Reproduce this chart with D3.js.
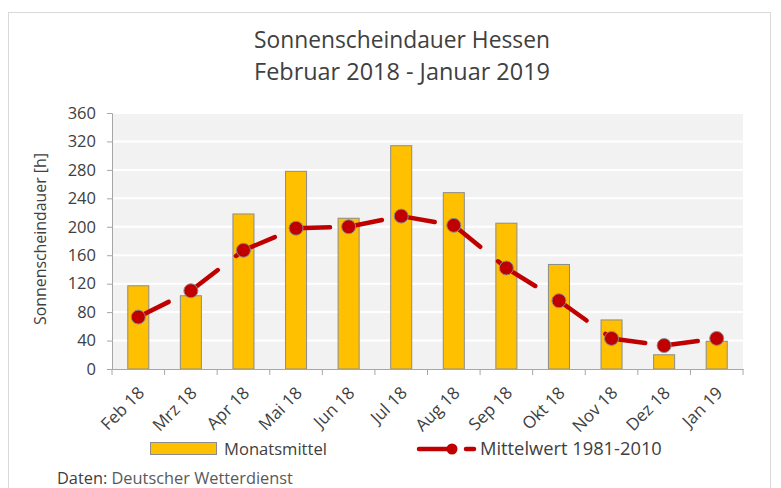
<!DOCTYPE html>
<html><head><meta charset="utf-8">
<script src="https://cdn.jsdelivr.net/npm/d3@7"></script>
<style>body{margin:0;background:#fff;} svg{display:block;font-family:"Open Sans",sans-serif;}</style>
</head><body>
<svg id="c" width="781" height="488"></svg>
<script>
const months = ["Feb 18","Mrz 18","Apr 18","Mai 18","Jun 18","Jul 18","Aug 18","Sep 18","Okt 18","Nov 18","Dez 18","Jan 19"];
const monatsmittel = [117,103,218,278,212,314,248,205,147,69,20,39];
const mittelwert = [73,110,167,198,200,215,202,142,96,43,33,43];
const yTicks = [0,40,80,120,160,200,240,280,320,360];
const titleLines = ["Sonnenscheindauer Hessen","Februar 2018 - Januar 2019"];
const yTitle = "Sonnenscheindauer [h]";
const legendLabels = ["Monatsmittel","Mittelwert 1981-2010"];
const source = ["Daten: ","Deutscher Wetterdienst"];

const svg = d3.select("#c");
const txt = "#404040";
const M = {l:112, r:743, t:113, b:369};

// frame
svg.append("rect").attr("x",8.5).attr("y",12.5).attr("width",762).attr("height",490)
  .attr("fill","#fff").attr("stroke","#d9d9d9").attr("stroke-width",1);

function fit(sel, w){ const l = sel.node().getComputedTextLength(); const fs = parseFloat(sel.attr("font-size")); sel.attr("font-size", fs*w/l); }

const t1 = svg.append("text").attr("x",402).attr("y",48).attr("text-anchor","middle").attr("font-size",22).attr("fill",txt).text(titleLines[0]);
fit(t1, 296);
const t2 = svg.append("text").attr("x",402).attr("y",80).attr("text-anchor","middle").attr("font-size",22).attr("fill",txt).text(titleLines[1]);
fit(t2, 296);

const x = d3.scaleBand().domain(months).range([M.l, M.r]).paddingInner(0.6).paddingOuter(0.3);
const xb = d3.scaleBand().domain(months).range([M.l, M.r]);
const y = d3.scaleLinear().domain([0,360]).range([M.b, M.t]);

svg.append("rect").attr("x",M.l).attr("y",M.t).attr("width",M.r-M.l).attr("height",M.b-M.t).attr("fill","#f2f2f2");

// gridlines
svg.append("g").selectAll("line").data(yTicks.filter(d=>d>0)).join("line")
  .attr("x1",M.l).attr("x2",M.r).attr("y1",d=>y(d)).attr("y2",d=>y(d))
  .attr("stroke","#fff").attr("stroke-width",2);

// y axis
const ya = svg.append("g").attr("transform",`translate(${M.l},0)`)
  .call(d3.axisLeft(y).tickValues(yTicks).tickSize(5).tickPadding(11));
ya.select(".domain").attr("stroke","#a6a6a6");
ya.selectAll(".tick line").attr("stroke","#a6a6a6");
ya.selectAll("text").attr("font-size",16.5).attr("fill",txt).attr("font-family","Open Sans");

// bars
svg.append("g").selectAll("rect").data(months).join("rect")
  .attr("x",d=>x(d)).attr("width",x.bandwidth())
  .attr("y",(d,i)=>y(monatsmittel[i])).attr("height",(d,i)=>y(0)-y(monatsmittel[i]))
  .attr("fill","#ffc000").attr("stroke","#8c8c8c").attr("stroke-width",1);

// x axis
const xa = svg.append("g").attr("transform",`translate(0,${M.b})`)
  .call(d3.axisBottom(xb).tickSize(0).tickFormat(""));
xa.select(".domain").attr("stroke","#a6a6a6");
const bounds = d3.range(months.length+1).map(i=>M.l + i*xb.step());
svg.append("g").selectAll("line").data(bounds).join("line")
  .attr("x1",d=>d).attr("x2",d=>d).attr("y1",M.b).attr("y2",M.b+6).attr("stroke","#a6a6a6");
svg.append("g").selectAll("text").data(months).join("text")
  .attr("transform",d=>`translate(${xb(d)+xb.bandwidth()/2+7},${M.b+25}) rotate(-45)`)
  .attr("text-anchor","end").attr("font-size",17).attr("fill",txt).text(d=>d);

// line segments with per-segment dash
const cx = (i)=>xb(months[i])+xb.bandwidth()/2;
const lineGen = d3.line().x(d=>cx(d[0])).y(d=>y(d[1]));
const segs = d3.range(months.length-1).map(i=>[[i,mittelwert[i]],[i+1,mittelwert[i+1]]]);
svg.append("g").selectAll("path").data(segs).join("path")
  .attr("d",lineGen).attr("fill","none").attr("stroke","#c00000").attr("stroke-width",4.5)
  .attr("stroke-linecap","round").attr("stroke-dasharray","34 23");
svg.append("g").selectAll("circle").data(mittelwert).join("circle")
  .attr("cx",(d,i)=>cx(i)).attr("cy",d=>y(d)).attr("r",7)
  .attr("fill","#c00000").attr("stroke","#8c8c8c").attr("stroke-width",1);

// y title
const yt = svg.append("text").attr("transform","translate(46,239) rotate(-90)").attr("text-anchor","middle")
  .attr("font-size",15).attr("fill",txt).text(yTitle);
fit(yt, 172);

// legend
svg.append("rect").attr("x",150.5).attr("y",442.5).attr("width",66).attr("height",12)
  .attr("fill","#ffc000").attr("stroke","#8c8c8c");
const l1 = svg.append("text").attr("x",224).attr("y",455).attr("font-size",16).attr("fill",txt).text(legendLabels[0]);
fit(l1, 103);
svg.append("line").attr("x1",419).attr("x2",450).attr("y1",449).attr("y2",449).attr("stroke","#c00000").attr("stroke-width",4.5).attr("stroke-linecap","round");
svg.append("circle").attr("cx",452).attr("cy",449).attr("r",5.5).attr("fill","#c00000");
svg.append("line").attr("x1",466).attr("x2",474).attr("y1",449).attr("y2",449).attr("stroke","#c00000").attr("stroke-width",4.5).attr("stroke-linecap","round");
const l2 = svg.append("text").attr("x",480).attr("y",455).attr("font-size",16).attr("fill",txt).text(legendLabels[1]);
fit(l2, 182);

// source
const s = svg.append("text").attr("x",57).attr("y",484).attr("font-size",14).attr("fill","#595959");
s.append("tspan").attr("fill","#404040").text(source[0]);
s.append("tspan").text(source[1]);
fit(s, 236);
</script>
</body></html>
